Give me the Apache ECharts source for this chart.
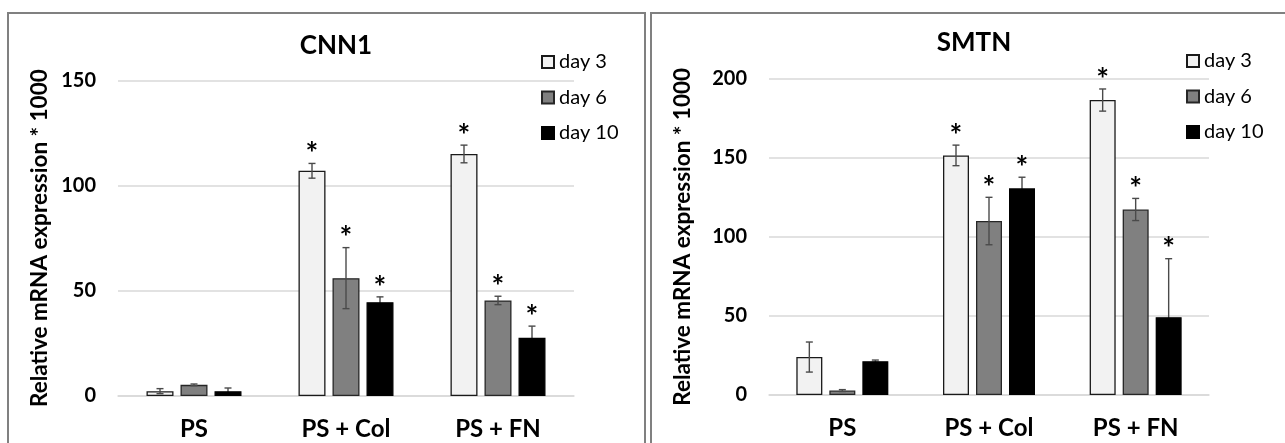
<!DOCTYPE html>
<html>
<head>
<meta charset="utf-8">
<script src="https://cdn.jsdelivr.net/npm/echarts@6/dist/echarts.min.js"></script>
<style>
html,body{margin:0;padding:0;background:#fff;}
#chart{width:1285px;height:443px;}
</style>
</head>
<body>
<div id="chart"></div>
<script>
// ---- data ----
const categories = ['PS', 'PS + Col', 'PS + FN'];
const seriesNames = ['day 3', 'day 6', 'day 10'];
const titles = ['CNN1', 'SMTN'];
const yAxisTitle = 'Relative mRNA expression * 1000';

const cnn1Day3 = [2.3, 107, 115];
const cnn1Day3Err = [1.2, 3.5, 4.2];
const cnn1Day6 = [5.3, 56, 45.4];
const cnn1Day6Err = [0.4, 14.5, 2];
const cnn1Day10 = [2.3, 44.6, 27.7];
const cnn1Day10Err = [1.5, 2.5, 5.5];

const smtnDay3 = [24, 151.5, 186.5];
const smtnDay3Err = [9.5, 6.5, 7];
const smtnDay6 = [2.8, 110, 117.3];
const smtnDay6Err = [0.6, 15, 7];
const smtnDay10 = [21.4, 130.7, 49.2];
const smtnDay10Err = [0.7, 7, 37];

const starred = [0, 1, 1];

const cnn1Ticks = { min: 0, max: 150, interval: 50 };
const smtnTicks = { min: 0, max: 200, interval: 50 };

// ---- style ----
const FONT = 'Lato';
const fills = ['#f2f2f2', '#808080', '#000000'];
const borders = ['#1a1a1a', '#262626', '#000000'];

const panels = [
  { vals: [cnn1Day3, cnn1Day6, cnn1Day10], errs: [cnn1Day3Err, cnn1Day6Err, cnn1Day10Err], ticks: cnn1Ticks,
    grid: { left: 118, width: 456, top: 80.3, bottom: 47 }, barW: 27, step: 34, nameGap: 67, titleX: 331, titleY: 28,
    legend: { left: 541, top: 50 } },
  { vals: [smtnDay3, smtnDay6, smtnDay10], errs: [smtnDay3Err, smtnDay6Err, smtnDay10Err], ticks: smtnTicks,
    grid: { left: 769, width: 440, top: 78.7, bottom: 48 }, barW: 26, step: 33, nameGap: 75, titleX: 969, titleY: 25,
    legend: { left: 1186, top: 49 } }
];

function makeErr(offset, color) {
  return function (params, api) {
    const x = api.value(0), y = api.value(1), e = api.value(2), s = api.value(3);
    const c = api.coord([x, y]);
    const t = api.coord([x, y + e]);
    const b = api.coord([x, y - e]);
    const cx = c[0] + offset;
    const cap = 3.5;
    const st = { stroke: color, lineWidth: 1.4 };
    const children = [
      { type: 'line', shape: { x1: cx, y1: t[1], x2: cx, y2: b[1] }, style: st },
      { type: 'line', shape: { x1: cx - cap, y1: t[1], x2: cx + cap, y2: t[1] }, style: st },
      { type: 'line', shape: { x1: cx - cap, y1: b[1], x2: cx + cap, y2: b[1] }, style: st }
    ];
    if (s) {
      children.push({ type: 'text', style: { text: '*', x: cx, y: t[1] - 9, textAlign: 'center', textVerticalAlign: 'middle',
        font: 'bold 30px ' + FONT, fill: '#000' } });
    }
    return { type: 'group', children: children };
  };
}

const grids = [], xAxes = [], yAxes = [], series = [], titleOpts = [], legends = [];
panels.forEach((p, pi) => {
  grids.push(Object.assign({ containLabel: false }, p.grid));
  xAxes.push({ type: 'category', data: categories, gridIndex: pi,
    axisLine: { lineStyle: { color: '#d9d9d9', width: 1.5 } }, axisTick: { show: false },
    axisLabel: { margin: 21, fontFamily: FONT, fontWeight: 'bold', fontSize: 24, color: '#000' } });
  yAxes.push({ type: 'value', gridIndex: pi, min: p.ticks.min, max: p.ticks.max, interval: p.ticks.interval,
    axisLine: { show: false }, axisTick: { show: false },
    splitLine: { lineStyle: { color: '#d9d9d9', width: 1.5 } },
    axisLabel: { margin: 22, fontFamily: FONT, fontWeight: 'bold', fontSize: 20, color: '#000' },
    name: yAxisTitle, nameLocation: 'middle', nameGap: p.nameGap, nameRotate: 90,
    nameTextStyle: { fontFamily: FONT, fontWeight: 'bold', fontSize: 22.5, color: '#000' } });
  titleOpts.push({ text: titles[pi], left: p.titleX, top: p.titleY, textAlign: 'center',
    textStyle: { fontFamily: FONT, fontWeight: 'bold', fontSize: 26, color: '#000' } });
  legends.push({ data: seriesNames, orient: 'vertical', left: p.legend.left, top: p.legend.top, padding: 0,
    itemWidth: 12, itemHeight: 12, itemGap: 11.5, icon: 'rect', selectedMode: false,
    textStyle: { fontFamily: FONT, fontSize: 20, color: '#000', padding: [0, 0, 0, 0], lineHeight: 24 } });
  p.vals.forEach((v, si) => {
    series.push({ type: 'bar', name: seriesNames[si], xAxisIndex: pi, yAxisIndex: pi, data: v,
      barWidth: p.barW, barGap: ((p.step - p.barW) / p.barW * 100) + '%', z: 2,
      itemStyle: { color: fills[si], borderColor: borders[si], borderWidth: 1.3 } });
  });
  p.vals.forEach((v, si) => {
    const data = v.map((val, i) => [i, val, p.errs[si][i], starred[i]]);
    series.push({ type: 'custom', xAxisIndex: pi, yAxisIndex: pi, data: data,
      encode: { x: 0, y: 1 }, z: si === 2 ? 1 : 3, silent: true,
      renderItem: makeErr((si - 1) * p.step, '#4a4a4a') });
  });
});

const chart = echarts.init(document.getElementById('chart'), null, { renderer: 'canvas' });
chart.setOption({
  backgroundColor: '#fff',
  animation: false,
  title: titleOpts,
  legend: legends,
  grid: grids,
  xAxis: xAxes,
  yAxis: yAxes,
  series: series,
  graphic: [
    { type: 'rect', shape: { x: 8, y: 13, width: 637, height: 500 }, style: { fill: 'none', stroke: '#808080', lineWidth: 2 }, silent: true },
    { type: 'rect', shape: { x: 651, y: 13, width: 700, height: 500 }, style: { fill: 'none', stroke: '#808080', lineWidth: 2 }, silent: true }
  ]
});
</script>
</body>
</html>
